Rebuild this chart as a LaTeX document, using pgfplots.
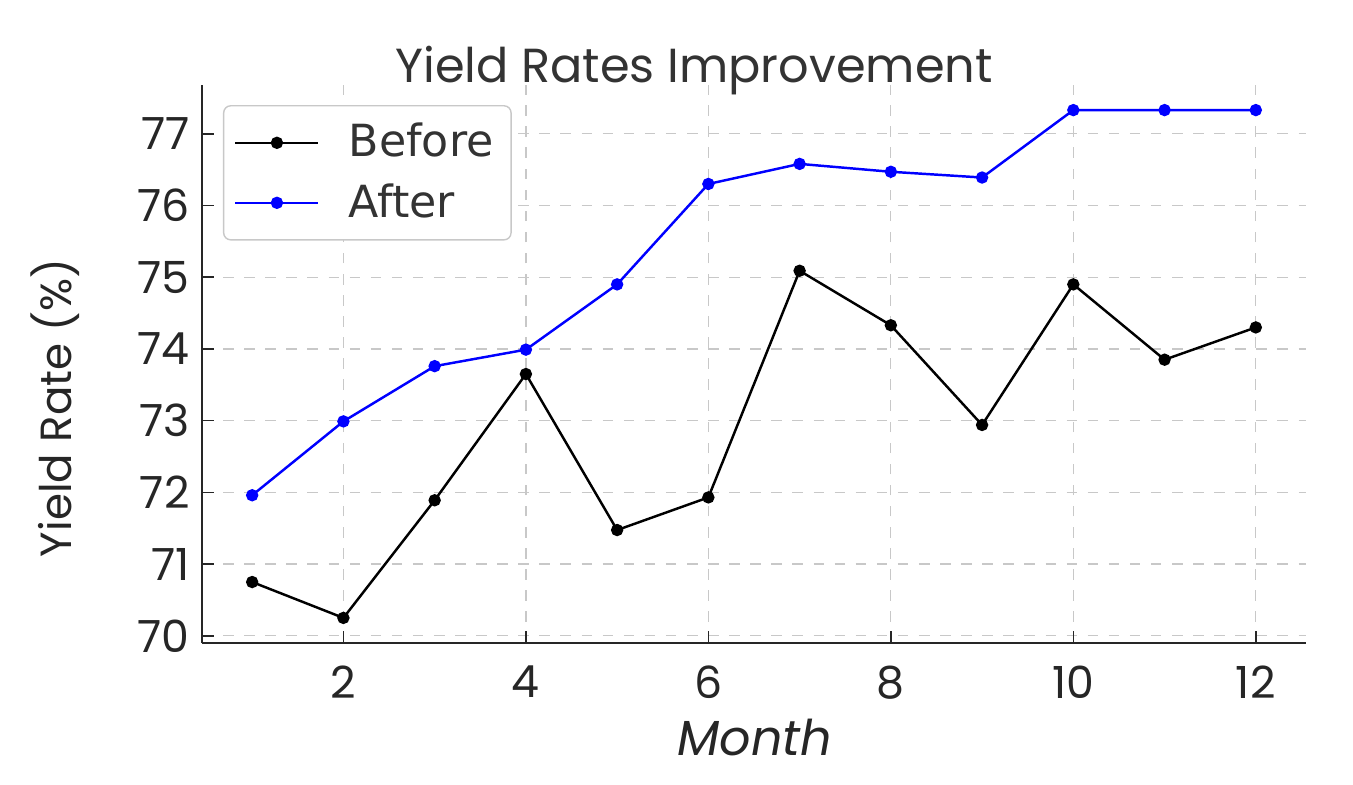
\documentclass[border=0pt]{standalone}
\usepackage{pgfplots}
\pgfplotsset{compat=1.18}
\usepackage{fontspec}
\setmainfont{Poppins}
\newfontfamily\legfont{DejaVu Sans}
\definecolor{txt}{HTML}{262626}
\definecolor{gridc}{HTML}{C8C8C8}

\begin{document}
\begin{tikzpicture}
\useasboundingbox (-2.02cm,-1.42cm) rectangle (11.51cm,6.43cm);
\begin{axis}[
    at={(0,0)}, anchor=south west,
    scale only axis,
    width=11.04cm, height=5.58cm,
    xmin=0.45, xmax=12.55,
    ymin=69.9, ymax=77.68,
    xtick={2,4,6,8,10,12},
    ytick={70,71,72,73,74,75,76,77},
    axis x line*=bottom, axis y line*=left,
    axis line style={black!85, line width=0.45pt},
    tick align=inside,
    major tick length=3.5pt,
    tick style={black!85, line width=0.45pt},
    grid=major,
    major grid style={gridc, dashed, line width=0.35pt},
    /pgf/number format/assume math mode=true,
    ticklabel style={font=\fontsize{12.6}{14}\selectfont, text=txt},
    xticklabel style={yshift=-3pt},
    legend style={at={(0.019,0.964)}, anchor=north west,
        draw=gridc, rounded corners=2pt, line width=0.4pt,
        font=\legfont\fontsize{12.6}{14}\selectfont, text=black!80,
        inner xsep=3pt, inner ysep=3pt, row sep=2pt},
    legend cell align=left,
    legend image code/.code={
        \draw[#1, mark=none] (0cm,0cm) -- (0.83cm,0cm);
        \draw[#1, mark=*] plot coordinates {(0.415cm,0cm)};
    },
    clip=false,
]
\addplot[black, line width=0.7pt, mark=*, mark size=1.4pt] coordinates {
    (1,70.75) (2,70.25) (3,71.89) (4,73.65) (5,71.475) (6,71.93)
    (7,75.09) (8,74.33) (9,72.94) (10,74.90) (11,73.85) (12,74.30)
};
\addlegendentry{\hspace{0.22cm}Before}
\addplot[blue, line width=0.7pt, mark=*, mark size=1.4pt] coordinates {
    (1,71.96) (2,72.99) (3,73.76) (4,73.99) (5,74.90) (6,76.30)
    (7,76.58) (8,76.47) (9,76.39) (10,77.33) (11,77.33) (12,77.33)
};
\addlegendentry{\hspace{0.22cm}After}
\end{axis}
\node[anchor=base, text=black!80, font=\fontsize{13.6}{16}\selectfont] at (4.92cm,5.60cm) {Yield Rates Improvement};
\node[rotate=90, text=txt, font=\fontsize{12.4}{15}\selectfont] at (-1.47cm,2.35cm) {Yield Rate (\%)};
\node[text=txt, font=\itshape\fontsize{14}{16}\selectfont] at (5.53cm,-0.95cm) {Month};
\end{tikzpicture}
\end{document}
